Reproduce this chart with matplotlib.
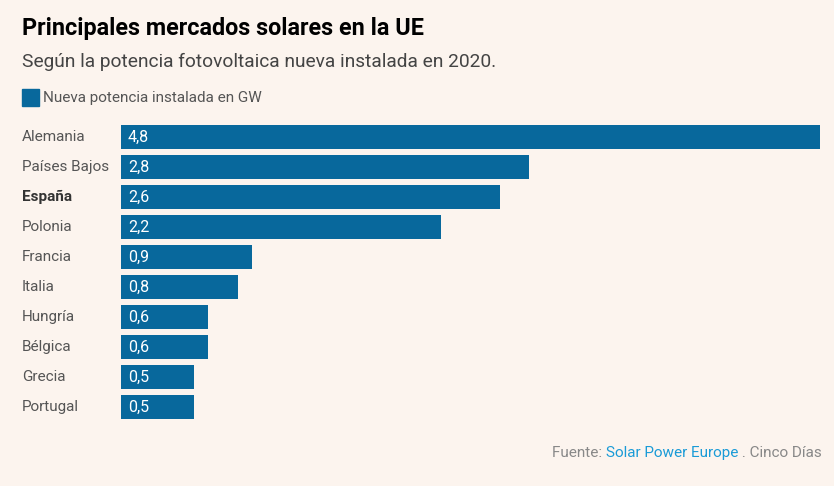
import matplotlib.pyplot as plt
import matplotlib.transforms as mtransforms

plt.rcParams['font.family'] = ['Roboto', 'DejaVu Sans']

countries = ["Alemania", "Países Bajos", "España", "Polonia", "Francia",
             "Italia", "Hungría", "Bélgica", "Grecia", "Portugal"]
values = [4.8, 2.8, 2.6, 2.2, 0.9, 0.8, 0.6, 0.6, 0.5, 0.5]
value_labels = ["4,8", "2,8", "2,6", "2,2", "0,9", "0,8", "0,6", "0,6", "0,5", "0,5"]
highlight = "España"

BG = "#fcf4ee"
BAR = "#08689c"
GREY = "#555555"

W, H = 834, 486
fig = plt.figure(figsize=(W / 100, H / 100), dpi=100, facecolor=BG)
ax = fig.add_axes([121 / W, 1 - 422 / H, 699 / W, 300 / H])
ax.set_facecolor(BG)

ypos = list(range(len(countries)))
ax.barh(ypos, values, height=0.83, color=BAR)
ax.set_xlim(0, max(values))
ax.set_ylim(len(countries) - 0.5, -0.5)
ax.axis("off")

# etiquetas de valor dentro de la barra
for y, lab in zip(ypos, value_labels):
    ax.annotate(lab, xy=(0, y), xytext=(5, 0), textcoords="offset points",
                color="white", fontsize=11.5, va="center", ha="left")

# nombres de países
trans = mtransforms.blended_transform_factory(fig.transFigure, ax.transData)
for y, name in zip(ypos, countries):
    ax.text(22 / W, y, name, transform=trans, ha="left", va="center",
            fontsize=11, color=GREY if name != highlight else "#333333",
            fontweight="bold" if name == highlight else "normal")

# título y subtítulo
fig.text(22 / W, 1 - 28 / H, "Principales mercados solares en la UE",
         fontsize=16.8, fontweight="bold", color="black", va="center", ha="left")
fig.text(22 / W, 1 - 62 / H, "Según la potencia fotovoltaica nueva instalada en 2020.",
         fontsize=13.8, color="#444444", va="center", ha="left")

# leyenda
fig.patches.append(plt.Rectangle((22 / W, 1 - 106 / H), 17 / W, 17 / H,
                                 transform=fig.transFigure, color=BAR))
fig.text(43 / W, 1 - 98 / H, "Nueva potencia instalada en GW",
         fontsize=11, color=GREY, va="center", ha="left")

# fuente (alineada a la derecha, con partes de colores distintos)
fig.canvas.draw()
r = fig.canvas.get_renderer()
parts = [("Fuente: ", "#888888"), ("Solar Power Europe", "#1a9bd7"), (" . Cinco Días", "#888888")]
x = 822
for txt, col in reversed(parts):
    t = fig.text(x / W, 1 - 453 / H, txt, fontsize=11, color=col, ha="right", va="center")
    x -= t.get_window_extent(renderer=r).width

fig.savefig("out.png", dpi=100, facecolor=BG)
